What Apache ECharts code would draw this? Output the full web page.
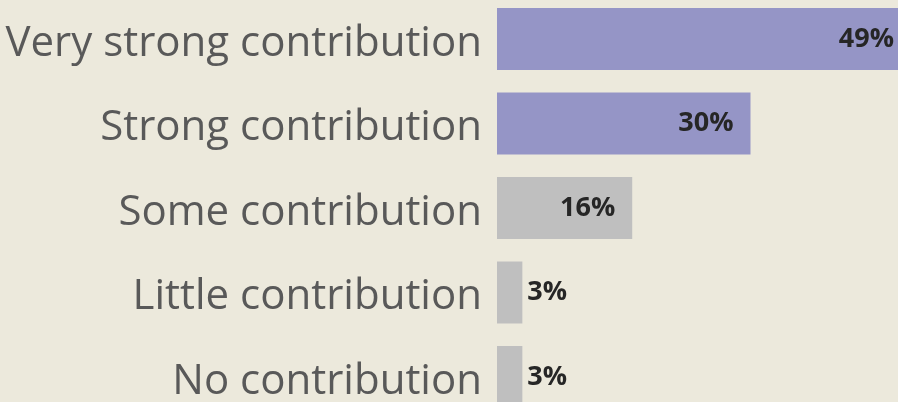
<!DOCTYPE html>
<html>
<head>
<meta charset="utf-8">
<script src="https://cdn.jsdelivr.net/npm/echarts@6/dist/echarts.min.js"></script>
<style>
  html, body { margin: 0; padding: 0; background: #ECE9DC; }
  #chart { width: 898px; height: 402px; }
</style>
</head>
<body>
<div id="chart"></div>
<script>
const categories = ['Very strong contribution', 'Strong contribution', 'Some contribution', 'Little contribution', 'No contribution'];
const shares = [49, 30, 16, 3, 3];

const chart = echarts.init(document.getElementById('chart'));

// plot area runs past the right and bottom edges, as the source image is cropped
const option = {
  backgroundColor: '#ECE9DC',
  animation: false,
  grid: {
    left: 497, top: -3.25, width: 422.5, height: 422.5,
    containLabel: false,
    outerBoundsMode: 'none'
  },
  xAxis: {
    type: 'value',
    min: 0,
    max: 50,
    show: false
  },
  yAxis: {
    type: 'category',
    data: categories,
    inverse: true,
    axisLine: { show: false },
    axisTick: { show: false },
    axisLabel: {
      margin: 15,
      formatter: (name) => '{cat|' + name + '}',
      rich: {
        cat: {
          padding: [10, 0, 0, 0],
          color: '#595959',
          fontFamily: 'Open Sans',
          fontSize: 42
        }
      }
    }
  },
  series: [{
    type: 'bar',
    barWidth: 62,
    data: shares.map((v, i) => ({
      value: v,
      itemStyle: { color: i < 2 ? '#9595C6' : '#BFBFBF' },
      label: v < 10
        ? { position: 'right', distance: 5 }
        : { position: 'insideRight', distance: 17 }
    })),
    label: {
      show: true,
      formatter: '{c}%',
      color: '#262626',
      fontFamily: 'Open Sans',
      fontWeight: 'bold',
      fontSize: 27
    }
  }]
};

chart.setOption(option);
</script>
</body>
</html>
